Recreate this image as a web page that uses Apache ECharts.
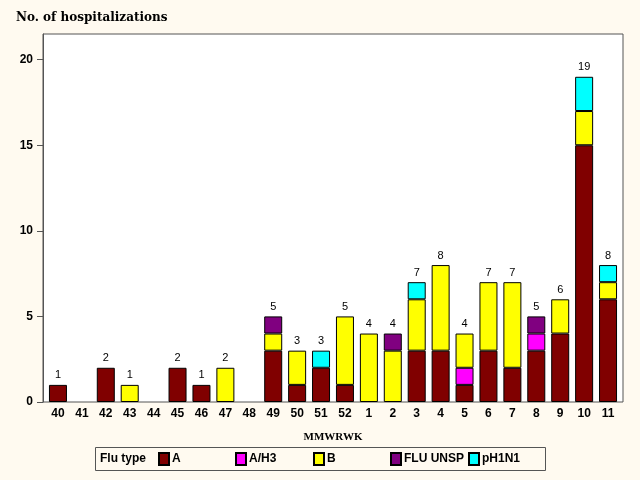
<!DOCTYPE html>
<html><head><meta charset="utf-8">
<script src="https://cdn.jsdelivr.net/npm/echarts@6/dist/echarts.min.js"></script>
<style>html,body{margin:0;padding:0;background:#FFFAF0;}#c{width:640px;height:480px;}</style>
</head><body><div id="c"></div>
<script>
var weeks = ['40','41','42','43','44','45','46','47','48','49','50','51','52','1','2','3','4','5','6','7','8','9','10','11'];
var fluA     = [1,0,2,0,0,2,1,0,0,3,1,2,1,0,0,3,3,1,3,2,3,4,15,6];
var fluAH3   = [0,0,0,0,0,0,0,0,0,0,0,0,0,0,0,0,0,1,0,0,1,0,0,0];
var fluB     = [0,0,0,1,0,0,0,2,0,1,2,0,4,4,3,3,5,2,4,5,0,2,2,1];
var fluUnsp  = [0,0,0,0,0,0,0,0,0,1,0,0,0,0,1,0,0,0,0,0,1,0,0,0];
var pH1N1    = [0,0,0,0,0,0,0,0,0,0,0,1,0,0,0,1,0,0,0,0,0,0,2,1];
var yTicks   = [0,5,10,15,20];
var seriesNames = ['A','A/H3','B','FLU UNSP','pH1N1'];
var seriesColors = ['#800000','#FF00FF','#FFFF00','#800080','#00FFFF'];
var seriesData = [fluA, fluAH3, fluB, fluUnsp, pH1N1];
var totals = weeks.map(function(_, i){ return seriesData.reduce(function(s, d){ return s + d[i]; }, 0); });

var chart = echarts.init(document.getElementById('c'));
var series = seriesNames.map(function(n, k){
  return {
    name: n, type: 'bar', stack: 'all', barWidth: 18, xAxisIndex: 1, yAxisIndex: 1,
    data: seriesData[k].map(function(v){ return v === 0 ? '-' : v; }),
    itemStyle: { color: seriesColors[k], borderColor: '#000', borderWidth: 1 },
    emphasis: { disabled: true }
  };
});
series.push({
  name: 'Total', type: 'bar', stack: 'all', barWidth: 18, xAxisIndex: 1, yAxisIndex: 1,
  data: totals.map(function(){ return 0; }),
  itemStyle: { color: 'transparent' },
  label: { show: true, position: 'top', distance: 4, color: '#000',
    fontFamily: 'Liberation Sans, Arial, sans-serif', fontSize: 11,
    formatter: function(p){ return totals[p.dataIndex] > 0 ? String(totals[p.dataIndex]) : ''; } },
  emphasis: { disabled: true }
});

var legendLefts = [158, 235, 313, 390, 468];
var legends = seriesNames.map(function(n, k){
  return {
    data: [n], left: legendLefts[k], top: 452, padding: 0, itemWidth: 10, itemHeight: 12, itemGap: 0,
    icon: 'rect', selectedMode: false,
    textStyle: { fontFamily: 'Liberation Sans, Arial, sans-serif', fontWeight: 'bold', fontSize: 12, color: '#000', padding: [0,0,0,-2] }
  };
});

chart.setOption({
  backgroundColor: '#FFFAF0',
  animation: false,
  legend: legends,
  grid: [
    { left: 43, right: 17, top: 34, bottom: 78, show: true, backgroundColor: '#fff', borderColor: '#555', borderWidth: 1 },
    { left: 46, right: 20, top: 34, bottom: 78 }
  ],
  xAxis: [
    { type: 'value', gridIndex: 0, show: false, min: 0, max: 1 },
    {
      type: 'category', gridIndex: 1, data: weeks,
      name: 'MMWRWK', nameLocation: 'middle', nameGap: 30,
      nameTextStyle: { fontFamily: 'Liberation Serif, serif', fontWeight: 'bold', fontSize: 11, color: '#000' },
      axisLine: { show: false },
      axisTick: { show: false },
      axisLabel: { fontFamily: 'Liberation Sans, Arial, sans-serif', fontWeight: 'bold', fontSize: 12, color: '#000', margin: 6 }
    }
  ],
  yAxis: [
    {
      type: 'value', gridIndex: 0, min: 0, max: 21.5, interval: 5,
      splitLine: { show: false },
      axisLine: { show: true, lineStyle: { color: '#555' } },
      axisTick: { show: true, length: 6, lineStyle: { color: '#555' }, customValues: yTicks },
      axisLabel: { fontFamily: 'Liberation Sans, Arial, sans-serif', fontWeight: 'bold', fontSize: 12, color: '#000', margin: 10, customValues: yTicks }
    },
    { type: 'value', gridIndex: 1, min: 0, max: 21.5, show: false, splitLine: { show: false } }
  ],
  graphic: [
    { type: 'text', left: 16, top: 12, style: { text: 'No. of hospitalizations', fontFamily: 'DejaVu Serif, serif', fontWeight: 'bold', fontSize: 12, fill: '#000' } },
    { type: 'rect', shape: { x: 95.5, y: 447.5, width: 450, height: 23 }, style: { fill: 'none', stroke: '#555', lineWidth: 1 }, z: -1 },
    { type: 'text', left: 100, top: 453, style: { text: 'Flu type', fontFamily: 'Liberation Sans, Arial, sans-serif', fontWeight: 'bold', fontSize: 12, fill: '#000' } }
  ],
  series: series
});
</script></body></html>
